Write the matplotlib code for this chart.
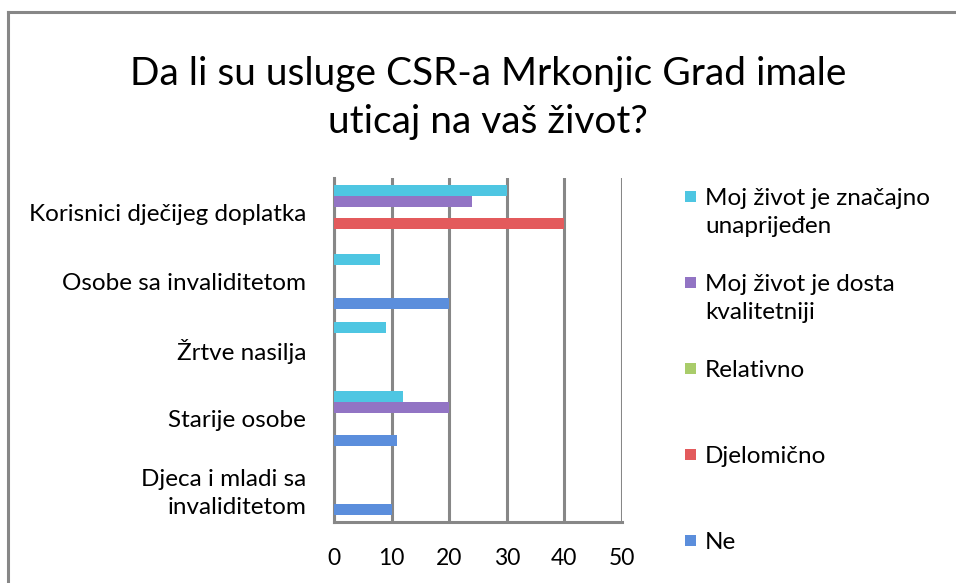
import matplotlib
matplotlib.use('Agg')
import matplotlib.pyplot as plt
import matplotlib.patches as patches
import numpy as np

plt.rcParams['font.family'] = ['Lato', 'DejaVu Sans']

# data
categories = ['Korisnici dječijeg doplatka', 'Osobe sa invaliditetom', 'Žrtve nasilja',
              'Starije osobe', 'Djeca i mladi sa\ninvaliditetom']
series_names = ['Moj život je značajno\nunaprijeđen', 'Moj život je dosta\nkvalitetniji',
                'Relativno', 'Djelomično', 'Ne']
znacajno = [30, 8, 9, 12, 0]
dosta = [24, 0, 0, 20, 0]
relativno = [0, 0, 0, 0, 0]
djelomicno = [40, 0, 0, 0, 0]
ne = [0, 20, 0, 11, 10]
x_ticks = [0, 10, 20, 30, 40, 50]

series = [znacajno, dosta, relativno, djelomicno, ne]
colors = ['#4EC6E2', '#9274C4', '#A9CC6A', '#E35A5C', '#5B8EDC']
grid_color = '#878787'

fig = plt.figure(figsize=(9.56, 5.83), dpi=100)
fig.patch.set_facecolor('white')

# outer chart border (only top/left visible in reference)
fig.add_artist(plt.Line2D([8 / 956, 8 / 956], [0, 1 - 12 / 583], color=grid_color, lw=2.2,
                          transform=fig.transFigure))
fig.add_artist(plt.Line2D([8 / 956, 1], [1 - 12 / 583, 1 - 12 / 583], color=grid_color, lw=2.2,
                          transform=fig.transFigure))

ax = fig.add_axes([334 / 956, 1 - 522 / 583, 288 / 956, 344 / 583])

y = np.arange(len(categories))
bar_h = 0.16
for i, (vals, col) in enumerate(zip(series, colors)):
    offs = (i - 2) * bar_h
    ax.barh(y + offs, vals, height=bar_h, color=col, edgecolor='none', zorder=3)

ax.set_xlim(0, 50)
ax.set_ylim(len(categories) - 0.5, -0.5)
ax.set_xticks(x_ticks)
ax.set_xticklabels([str(t) for t in x_ticks], fontsize=16.5)
ax.set_yticks(y)
ax.set_yticklabels(categories, fontsize=17.5, linespacing=1.42)
ax.tick_params(axis='both', length=0)
ax.tick_params(axis='x', pad=19)
ax.tick_params(axis='y', pad=20)

ax.grid(axis='x', color=grid_color, lw=2.2, zorder=0)
ax.grid(axis='y', visible=False)
for s in ['top', 'right']:
    ax.spines[s].set_visible(False)
for s in ['left', 'bottom']:
    ax.spines[s].set_color(grid_color)
    ax.spines[s].set_linewidth(2.2)

fig.text(488 / 956, 1 - 98 / 583, 'Da li su usluge CSR-a Mrkonjic Grad imale\nuticaj na vaš život?',
         ha='center', va='center', fontsize=28, linespacing=1.38)

# manual legend, markers at first text line
for i, (name, col) in enumerate(zip(series_names, colors)):
    yc = 197 + 86 * i
    fig.add_artist(patches.Rectangle((685 / 956, 1 - (yc + 5) / 583), 11 / 956, 11 / 583,
                                     facecolor=col, edgecolor='none', transform=fig.transFigure))
    fig.text(705 / 956, 1 - (yc - 9) / 583, name, ha='left', va='top', fontsize=17.5,
             linespacing=1.42)

fig.savefig('out.png', dpi=100, facecolor='white')
